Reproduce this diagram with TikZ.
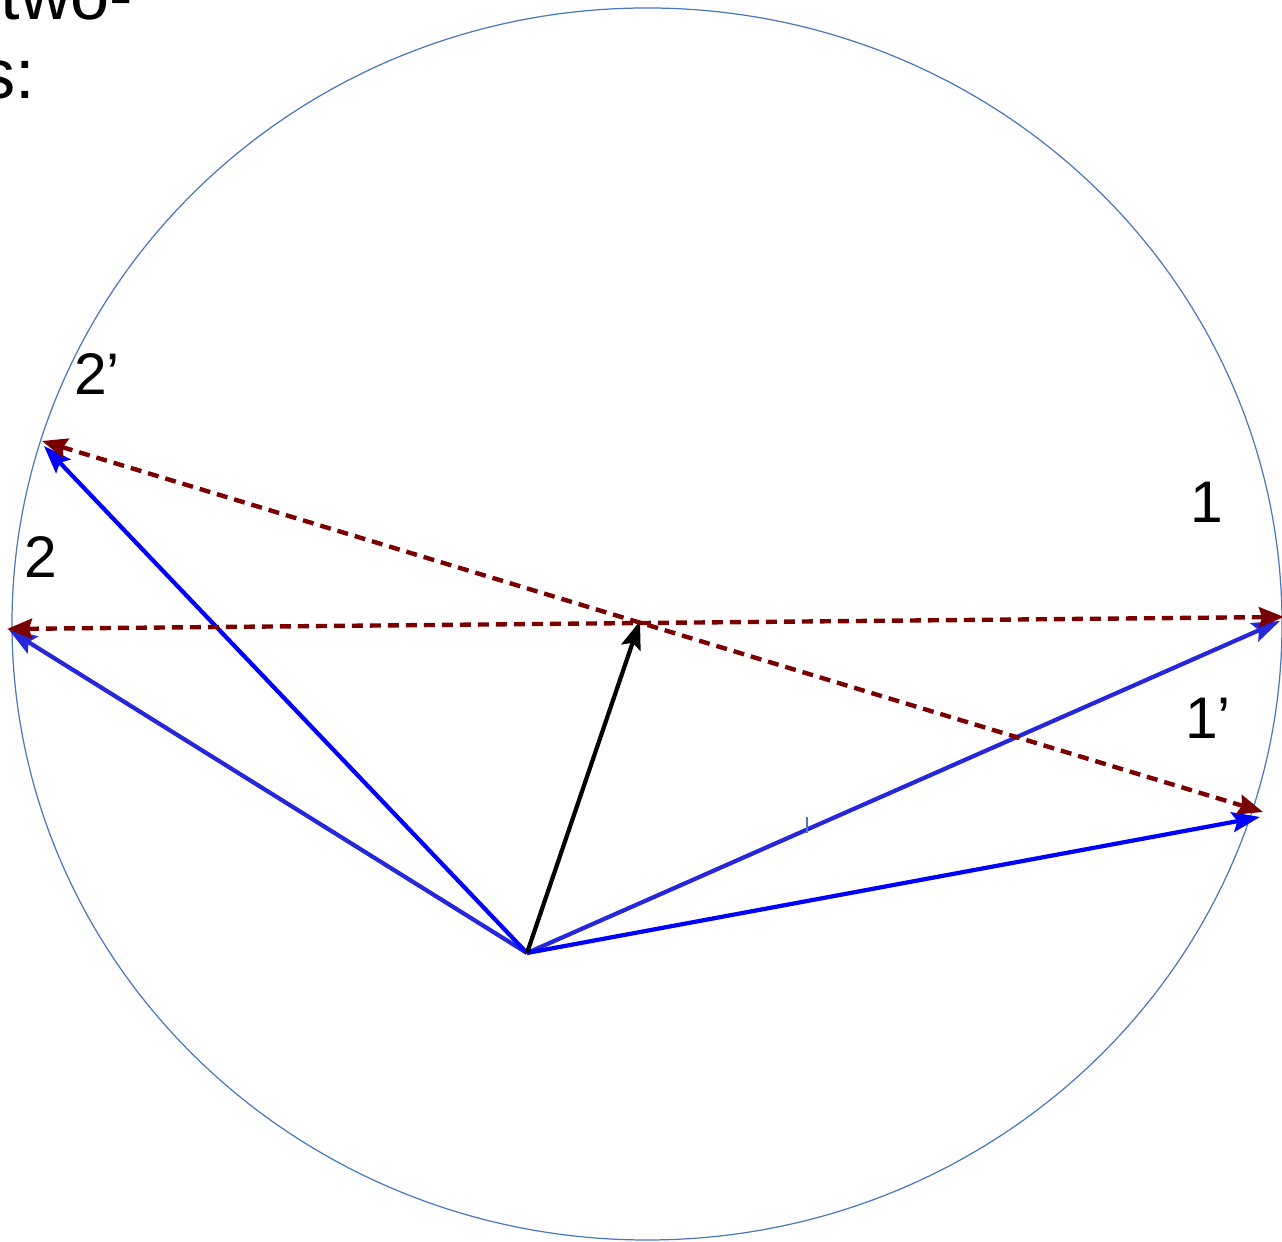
\documentclass[tikz,border=0pt]{standalone}
\usepackage{fontspec}
\setmainfont{Liberation Sans}
\usepackage{tikz}
\usetikzlibrary{arrows.meta, calc}
\definecolor{rimBlue}{HTML}{4A78BE}
\definecolor{vecBlue}{HTML}{2626DA}
\definecolor{vecBlueB}{HTML}{0000FF}
\definecolor{pairRed}{HTML}{7A0000}

\begin{document}
\begin{tikzpicture}[
    vec/.style={-{Stealth[length=2.8mm, width=2mm, inset=0.5mm]}, line width=1.2pt},
    pair/.style={{Stealth[length=2.5mm, width=2mm, inset=0.3mm]}-{Stealth[length=2.5mm, width=2mm, inset=0.3mm]}, line width=1.25pt, pairRed, dash pattern=on 1.1mm off 0.7mm},
    lbl/.style={font=\fontsize{16.7}{18}\selectfont, inner sep=0pt, anchor=base},
]
    \useasboundingbox (0,0) rectangle (12.82,12.42);
    \clip (0,0) rectangle (12.82,12.42);

    % end points
    \coordinate (O) at (5.27,2.89);
    \coordinate (M) at (6.40,6.21);
    \coordinate (P1) at (12.80,6.21);
    \coordinate (P1p) at (12.60,4.25);
    \coordinate (P2) at (0.09,6.12);
    \coordinate (P2p) at (0.44,7.96);
    \coordinate (R1) at (12.84,6.25);
    \coordinate (R1p) at (12.63,4.30);
    \coordinate (R2) at (0.07,6.13);
    \coordinate (R2p) at (0.42,8.01);

    \draw[rimBlue, line width=0.35pt] (6.47,6.18) ellipse [x radius=6.35, y radius=6.16];

    \draw[vec, vecBlue] (O) -- (P2);
    \draw[vec, vecBlueB] (O) -- (P2p);
    \draw[vec, vecBlue] (O) -- (P1);
    \draw[vec, vecBlueB] (O) -- (P1p);
    \draw[vec, black] (O) -- (M);

    \draw[pair] (R2) -- (R1);
    \draw[pair] (R2p) -- (R1p);

    \draw[rimBlue, line width=0.4pt] (8.07,4.25) -- (8.07,4.09);

    \node[lbl] (l2p) at (0.97,8.47) {2’};
    \node[lbl] (l2) at (0.41,6.64) {2};
    \node[lbl] (l1) at (12.07,7.19) {1};
    \node[lbl] (l1p) at (12.08,5.03) {1’};

    \node[font=\fontsize{20}{22}\selectfont, inner sep=0pt, anchor=base east] (t1) at (1.34,12.22) {two-};
    \node[font=\fontsize{20}{22}\selectfont, inner sep=0pt, anchor=base east] (t2) at (0.36,11.43) {s:};
\end{tikzpicture}
\end{document}
